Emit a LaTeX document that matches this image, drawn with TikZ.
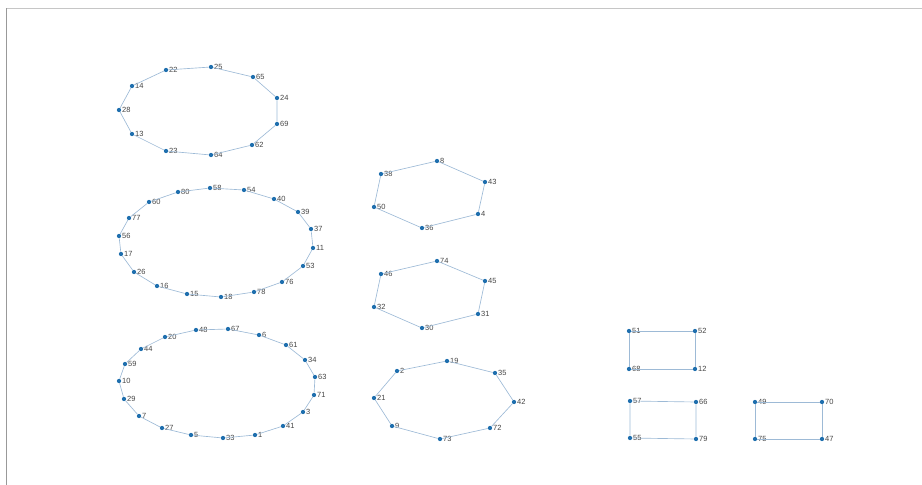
\documentclass[tikz,border=0pt]{standalone}
\usepackage{fontspec}
\setmainfont{Liberation Sans}
\definecolor{dotblue}{HTML}{1F6FAE}
\definecolor{edgeblue}{HTML}{9DBAD6}
\definecolor{lblgray}{HTML}{444444}

\tikzset{
  vtx/.style={circle, fill=dotblue, inner sep=0pt, minimum size=4.3pt, label distance=0.6pt},
  lbl/.style={font=\fontsize{7.5}{8}\selectfont, text=lblgray, inner sep=0.6pt},
  edge/.style={draw=edgeblue, line width=0.65pt}
}

\begin{document}
\begin{tikzpicture}[x=1pt, y=-1pt]
  \useasboundingbox (0,0) rectangle (922,485);
  % frame
  \draw[gray!45, line width=1pt] (6,8) -- (922,8);
  \draw[gray!80, line width=1pt] (6,8) -- (6,485);

  % ring of 11
  \foreach \n/\x/\y in {22/166/70, 25/211/67, 65/253/77, 24/277/98, 69/277/124,
      62/252/145, 64/211/155, 23/166/151, 13/132/134, 28/119/110, 14/132/86}
    \node[vtx, label={[lbl]right:\n}] (v\n) at (\x,\y) {};
  \draw[edge] (v22) -- (v25) -- (v65) -- (v24) -- (v69) -- (v62) -- (v64)
    -- (v23) -- (v13) -- (v28) -- (v14) -- (v22);

  % ring of 18
  \foreach \n/\x/\y in {58/210/188, 54/244/190, 40/274/199, 39/298/212, 37/311/229,
      11/313/248, 53/303/266, 76/282/282, 78/254/292, 18/221/297, 15/187/294,
      16/157/286, 26/134/272, 17/121/254, 56/119/236, 77/129/218, 60/149/202, 80/178/192}
    \node[vtx, label={[lbl]right:\n}] (v\n) at (\x,\y) {};
  \draw[edge] (v58) -- (v54) -- (v40) -- (v39) -- (v37) -- (v11) -- (v53) -- (v76)
    -- (v78) -- (v18) -- (v15) -- (v16) -- (v26) -- (v17) -- (v56) -- (v77)
    -- (v60) -- (v80) -- (v58);

  % ring of 19
  \foreach \n/\x/\y in {48/196/330, 67/228/329, 6/259/335, 61/286/345, 34/305/360,
      63/315/377, 71/314/395, 3/303/412, 41/283/426, 1/255/435, 33/223/438,
      5/191/435, 27/162/428, 7/139/416, 29/124/399, 10/119/381, 59/125/364,
      44/141/349, 20/165/337}
    \node[vtx, label={[lbl]right:\n}] (v\n) at (\x,\y) {};
  \draw[edge] (v48) -- (v67) -- (v6) -- (v61) -- (v34) -- (v63) -- (v71) -- (v3)
    -- (v41) -- (v1) -- (v33) -- (v5) -- (v27) -- (v7) -- (v29) -- (v10)
    -- (v59) -- (v44) -- (v20) -- (v48);

  % hexagons
  \foreach \n/\x/\y in {8/437/161, 43/485/182, 4/478/214, 36/422/228, 50/374/207, 38/381/174,
      74/437/261, 45/485/281, 31/478/314, 30/422/328, 32/374/307, 46/381/274}
    \node[vtx, label={[lbl]right:\n}] (v\n) at (\x,\y) {};
  \draw[edge] (v8) -- (v43) -- (v4) -- (v36) -- (v50) -- (v38) -- (v8);
  \draw[edge] (v74) -- (v45) -- (v31) -- (v30) -- (v32) -- (v46) -- (v74);

  % octagon
  \foreach \n/\x/\y in {19/447/361, 35/495/373, 42/514/402, 72/490/428,
      73/440/439, 9/392/426, 21/374/398, 2/397/371}
    \node[vtx, label={[lbl]right:\n}] (v\n) at (\x,\y) {};
  \draw[edge] (v19) -- (v35) -- (v42) -- (v72) -- (v73) -- (v9) -- (v21) -- (v2) -- (v19);

  % rectangles
  \foreach \n/\x/\y in {51/629/331, 52/695/331, 12/695/369, 68/629/369,
      57/630/401, 66/696/402, 79/696/439, 55/630/438,
      49/755/402, 70/822/402, 47/822/439, 75/755/439}
    \node[vtx, label={[lbl]right:\n}] (v\n) at (\x,\y) {};
  \draw[edge] (v51) -- (v52) -- (v12) -- (v68) -- (v51);
  \draw[edge] (v57) -- (v66) -- (v79) -- (v55) -- (v57);
  \draw[edge] (v49) -- (v70) -- (v47) -- (v75) -- (v49);
\end{tikzpicture}
\end{document}
